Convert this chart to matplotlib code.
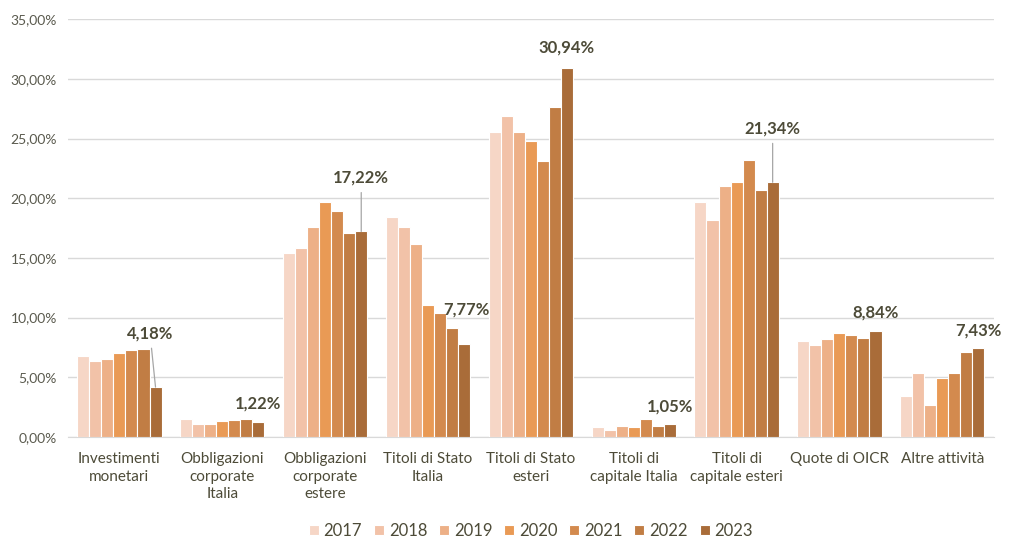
import numpy as np
import matplotlib
matplotlib.use('Agg')
import matplotlib.pyplot as plt
from matplotlib.ticker import FuncFormatter

plt.rcParams['font.family'] = ['Lato', 'DejaVu Sans']

categories = ['Investimenti\nmonetari', 'Obbligazioni\ncorporate\nItalia',
              'Obbligazioni\ncorporate\nestere', 'Titoli di Stato\nItalia',
              'Titoli di Stato\nesteri', 'Titoli di\ncapitale Italia',
              'Titoli di\ncapitale esteri', 'Quote di OICR', 'Altre attività']
years = ['2017', '2018', '2019', '2020', '2021', '2022', '2023']

v2017 = [6.78, 1.50, 15.43, 18.47, 25.59, 0.82, 19.72, 8.02, 3.41]
v2018 = [6.34, 1.10, 15.85, 17.63, 26.93, 0.60, 18.16, 7.71, 5.40]
v2019 = [6.56, 1.10, 17.61, 16.15, 25.59, 0.90, 21.04, 8.21, 2.67]
v2020 = [7.06, 1.33, 19.70, 11.07, 24.81, 0.80, 21.34, 8.71, 4.98]
v2021 = [7.29, 1.42, 18.91, 10.43, 23.16, 1.47, 23.21, 8.57, 5.34]
v2022 = [7.37, 1.47, 17.07, 9.14, 27.66, 0.90, 20.70, 8.32, 7.12]
v2023 = [4.18, 1.22, 17.22, 7.77, 30.94, 1.05, 21.34, 8.84, 7.43]
series = [v2017, v2018, v2019, v2020, v2021, v2022, v2023]

colors = ['#F6D6C6', '#F2C2A8', '#EDB087', '#E99A55', '#D38A4E', '#C17D44', '#A96C39']

# label offsets (points) above the 2023 bar, and leader line or not
lab_off = [(-4, 33, True), (0, 8, False), (0, 33, True), (2, 19, False), (0, 9, False),
           (0, 7, False), (0, 33, True), (0, 8, False), (0, 7, False)]

fig = plt.figure(figsize=(10.24, 5.49), dpi=100)
ax = fig.add_axes([0.0664, 0.204, 0.904, 0.761])

x = np.arange(len(categories))
w = 0.117
for i, vals in enumerate(series):
    ax.bar(x + (i - 3) * w, vals, w, color=colors[i], edgecolor='white',
           linewidth=0.8, label=years[i], zorder=3)

for j, v in enumerate(v2023):
    dx, dy, line = lab_off[j]
    xb = x[j] + 3 * w
    txt = f'{v:.2f}%'.replace('.', ',')
    ax.annotate(txt, (xb, v), xytext=(dx, dy), textcoords='offset points',
                ha='center', va='bottom', fontsize=12, fontweight='bold',
                color='#4D4B38', zorder=5,
                arrowprops=dict(arrowstyle='-', color='#A6A6A6', lw=0.9,
                                shrinkA=3, shrinkB=0) if line else None)

ax.set_ylim(0, 35)
ax.set_xlim(-0.5, len(categories) - 0.5)
ax.set_yticks(np.arange(0, 36, 5))
ax.yaxis.set_major_formatter(FuncFormatter(lambda v, p: f'{v:.2f}%'.replace('.', ',')))
ax.set_xticks(x)
ax.set_xticklabels(categories, fontsize=11, color='#4D4B38', linespacing=1.3)
ax.tick_params(axis='y', length=0, labelsize=10, labelcolor='#5A5A4E', pad=8)
ax.tick_params(axis='x', length=0, pad=11)
ax.grid(axis='y', color='#D9D9D9', lw=1, zorder=0)
for s in ['top', 'right', 'left']:
    ax.spines[s].set_visible(False)
ax.spines['bottom'].set_color('#D9D9D9')

ax.legend(loc='center', bbox_to_anchor=(0.5, -0.225), ncol=7, frameon=False,
          fontsize=12, handlelength=0.6, handleheight=0.6, handletextpad=0.3,
          columnspacing=0.7, labelcolor='#4D4B38')

fig.savefig('out.png', dpi=100)
